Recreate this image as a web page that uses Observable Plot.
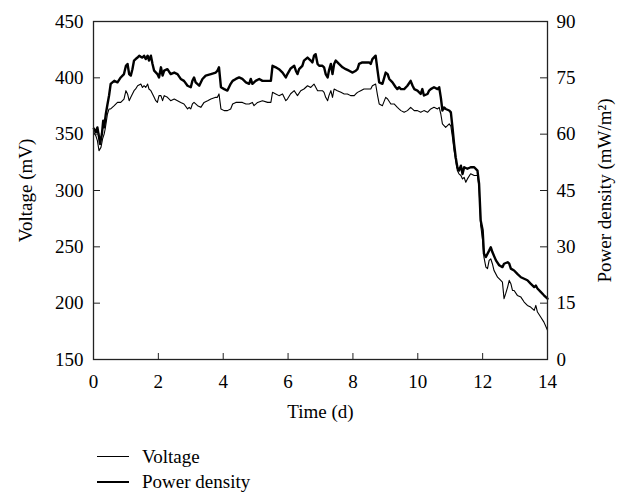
<!DOCTYPE html>
<html><head><meta charset="utf-8">
<script src="https://cdn.jsdelivr.net/npm/d3@7"></script>
<script src="https://cdn.jsdelivr.net/npm/@observablehq/plot@0.6"></script>
<style>
body{margin:0;background:#fff;font-family:"Liberation Serif",serif;}
#wrap{position:relative;width:622px;height:493px;}
#legend{position:absolute;left:97px;top:444px;font-size:19px;color:#000;}
.row{display:flex;align-items:center;height:25.5px;}
.sw{width:32px;margin-right:13px;background:#000;}
</style></head><body><div id="wrap"><div id="chart"></div><div id="legend"></div></div>
<script>
const timeTicks = [0, 2, 4, 6, 8, 10, 12, 14];
const voltageTicks = [150, 200, 250, 300, 350, 400, 450];
const powerTicks = [0, 15, 30, 45, 60, 75, 90];
const xLabel = "Time (d)";
const yLabel = "Voltage (mV)";
const y2Label = "Power density (mW/m\u00B2)";
const seriesNames = ["Voltage", "Power density"];

const voltageTime = [0.01,0.07,0.12,0.17,0.23,0.28,0.33,0.36,0.40,0.43,0.48,0.53,0.64,0.74,0.84,0.94,1.00,1.05,1.10,1.15,1.25,1.30,1.36,1.46,1.51,1.56,1.61,1.67,1.71,1.77,1.82,1.87,1.92,1.97,2.02,2.08,2.13,2.18,2.28,2.38,2.49,2.59,2.69,2.79,2.90,2.95,3.00,3.05,3.10,3.21,3.31,3.41,3.52,3.62,3.77,3.82,3.87,3.93,4.03,4.13,4.23,4.29,4.39,4.49,4.59,4.70,4.80,4.90,4.95,5.06,5.21,5.37,5.47,5.52,5.62,5.72,5.83,5.93,5.98,6.08,6.19,6.29,6.39,6.49,6.60,6.70,6.80,6.91,6.96,7.06,7.11,7.16,7.22,7.26,7.32,7.37,7.42,7.52,7.63,7.73,7.83,7.93,8.04,8.09,8.14,8.24,8.34,8.45,8.55,8.60,8.70,8.76,8.81,8.91,9.01,9.07,9.17,9.27,9.37,9.42,9.48,9.58,9.68,9.78,9.89,9.99,10.09,10.19,10.30,10.40,10.50,10.61,10.66,10.71,10.76,10.86,10.97,11.02,11.07,11.12,11.17,11.22,11.27,11.33,11.38,11.43,11.48,11.53,11.63,11.74,11.84,11.89,11.94,12.00,12.04,12.10,12.15,12.20,12.25,12.30,12.35,12.46,12.56,12.61,12.66,12.71,12.77,12.82,12.87,12.92,12.97,13.07,13.18,13.28,13.38,13.48,13.59,13.64,13.69,13.79,13.89,14.00];
const voltageValues = [351.6,348.7,344.3,335.4,338.3,345.8,350.2,354.6,362.0,367.9,372.4,372.4,375.3,378.2,378.2,381.2,388.6,385.7,379.7,382.7,388.6,390.1,393.0,394.5,391.5,393.0,391.5,394.5,390.1,388.6,385.7,382.7,379.7,378.2,384.2,384.2,379.7,384.2,382.7,379.7,381.2,379.7,378.2,376.8,372.4,373.8,372.4,376.8,378.2,375.3,373.8,378.2,379.7,381.2,382.7,382.7,385.7,372.4,370.9,370.9,372.4,376.8,378.2,378.2,378.2,376.8,376.8,378.2,375.3,378.2,379.7,378.2,378.2,387.1,385.7,384.2,385.7,379.7,381.2,385.9,388.6,384.2,388.6,390.1,393.0,391.5,394.5,388.6,388.6,388.6,387.1,382.7,379.7,384.2,388.6,382.7,390.1,388.6,387.1,385.7,385.7,384.2,384.2,385.7,387.1,388.6,390.1,390.1,390.1,393.0,394.5,384.2,376.8,375.3,382.7,381.2,376.8,376.8,373.8,372.4,370.9,369.4,370.9,373.8,370.9,370.9,369.4,370.9,369.4,372.4,373.8,372.4,373.8,367.9,359.1,356.1,359.1,357.1,347.2,335.4,326.6,317.7,314.8,313.3,310.3,311.7,307.3,310.3,314.8,313.3,313.3,302.9,268.9,255.6,240.8,232.0,230.6,237.9,239.4,235.0,229.1,223.1,220.2,218.7,204.0,208.4,214.3,220.2,217.3,211.3,211.3,206.9,205.4,201.0,198.0,196.5,193.6,198.0,192.1,187.7,183.2,175.9];

const powerTime = [0.01,0.07,0.12,0.17,0.20,0.26,0.30,0.33,0.38,0.43,0.48,0.53,0.64,0.74,0.84,0.94,1.00,1.05,1.10,1.15,1.20,1.25,1.30,1.36,1.41,1.46,1.51,1.56,1.61,1.67,1.71,1.77,1.82,1.87,1.97,2.02,2.08,2.13,2.18,2.28,2.38,2.49,2.59,2.69,2.79,2.90,3.00,3.05,3.10,3.15,3.26,3.36,3.46,3.62,3.77,3.82,3.87,3.93,4.03,4.13,4.23,4.29,4.39,4.49,4.59,4.70,4.80,4.85,4.90,5.00,5.11,5.21,5.37,5.47,5.52,5.62,5.72,5.83,5.93,5.98,6.08,6.19,6.24,6.29,6.34,6.44,6.49,6.60,6.70,6.75,6.80,6.85,6.91,6.96,7.06,7.11,7.16,7.22,7.26,7.32,7.37,7.42,7.47,7.57,7.68,7.78,7.88,7.99,8.09,8.14,8.19,8.29,8.40,8.50,8.55,8.60,8.70,8.76,8.81,8.91,9.01,9.07,9.12,9.22,9.32,9.37,9.42,9.48,9.58,9.68,9.78,9.84,9.89,9.99,10.09,10.14,10.19,10.30,10.35,10.40,10.50,10.61,10.66,10.71,10.76,10.81,10.86,10.97,11.02,11.07,11.12,11.17,11.22,11.27,11.33,11.38,11.43,11.53,11.63,11.74,11.84,11.89,11.94,12.00,12.04,12.10,12.20,12.25,12.30,12.41,12.51,12.61,12.66,12.77,12.82,12.87,12.97,13.07,13.18,13.28,13.38,13.48,13.59,13.64,13.69,13.79,13.89,14.00];
const powerValues = [61.5,60.5,61.8,59.2,57.4,60.1,63.6,61.8,65.4,67.9,70.3,73.4,74.2,73.8,75.1,76.0,78.2,78.7,76.0,75.6,77.3,79.6,80.0,80.4,80.9,80.6,80.4,80.9,80.0,80.9,79.6,80.9,78.7,76.9,76.0,75.1,77.8,75.6,76.9,77.3,76.0,76.4,76.0,74.7,74.2,72.9,72.5,74.2,75.1,73.8,72.9,74.7,75.6,76.0,76.4,76.9,77.8,72.5,72.0,71.6,73.4,74.2,74.7,75.1,74.7,73.8,73.4,74.7,73.4,74.2,74.7,74.2,74.2,74.2,78.2,77.8,77.3,76.4,75.1,76.0,77.5,78.2,76.9,76.0,77.3,78.2,79.6,80.4,79.6,79.1,80.9,81.3,78.7,78.2,78.2,77.8,76.0,75.1,76.9,78.7,76.0,78.7,79.6,78.7,77.8,77.3,76.9,76.4,76.9,77.3,78.7,79.1,79.1,79.1,78.7,80.0,80.9,76.9,73.8,73.4,76.4,76.0,74.7,73.8,72.5,72.0,72.5,72.0,72.0,72.9,74.2,72.9,72.0,71.6,70.7,72.0,70.3,70.7,71.6,72.0,72.5,72.0,72.5,69.8,66.3,67.1,66.7,66.3,65.8,61.8,57.4,53.8,51.2,50.3,51.6,49.4,51.2,50.8,51.2,51.2,50.3,46.8,37.0,34.4,28.2,27.3,29.0,29.9,28.6,26.4,25.1,24.6,25.5,25.9,25.5,24.2,23.7,22.8,21.9,21.5,21.1,20.2,19.3,19.7,18.9,18.0,17.1,16.2];

const voltage = voltageTime.map((t, i) => ({t, v: voltageValues[i]}));
const power = powerTime.map((t, i) => ({t, p: powerValues[i]}));

const W = 622, H = 430;
const mL = 93, mR = 75, mT = 21, mB = H - 359;
const plotW = W - mL - mR, plotH = H - mT - mB;
const toLeft = p => 150 + p * 10 / 3;

const chart = Plot.plot({
  width: W, height: H,
  marginLeft: mL, marginRight: mR, marginTop: mT, marginBottom: mB,
  style: {fontFamily: '"Liberation Serif", serif', fontSize: "19px", color: "#000", background: "#fff"},
  x: {domain: [0, 14]},
  y: {domain: [150, 450]},
  marks: [
    Plot.line(voltage, {x: "t", y: "v", stroke: "#000", strokeWidth: 1.1}),
    Plot.line(power, {x: "t", y: d => toLeft(d.p), stroke: "#000", strokeWidth: 2.4}),
    Plot.frame({stroke: "#222", strokeWidth: 1.3}),
    Plot.tickX(timeTicks, {x: d => d, insetTop: plotH - 6, stroke: "#222"}),
    Plot.tickY(voltageTicks, {y: d => d, insetRight: plotW - 7, stroke: "#222"}),
    Plot.tickY(powerTicks, {y: d => toLeft(d), insetLeft: plotW - 7, stroke: "#222"}),
    Plot.axisX(timeTicks, {tickSize: 0, tickPadding: 15, label: null}),
    Plot.axisY(voltageTicks, {anchor: "left", tickSize: 0, tickPadding: 10, label: null}),
    Plot.axisY(powerTicks.map(toLeft), {anchor: "right", tickSize: 0, tickPadding: 9, label: null,
      tickFormat: v => String(Math.round((v - 150) * 0.3))}),
    Plot.text([xLabel], {text: d => d, frameAnchor: "bottom", dy: 52, textAnchor: "middle", lineAnchor: "middle"}),
    Plot.text([yLabel], {text: d => d, frameAnchor: "left", dx: -68, rotate: -90, textAnchor: "middle", lineAnchor: "middle"}),
    Plot.text([y2Label], {text: d => d, frameAnchor: "right", dx: 57, rotate: -90, textAnchor: "middle", lineAnchor: "middle"})
  ]
});
document.getElementById("chart").appendChild(chart);

const legend = document.getElementById("legend");
seriesNames.forEach((name, i) => {
  const row = document.createElement("div");
  row.className = "row";
  const sw = document.createElement("div");
  sw.className = "sw";
  sw.style.height = (i === 0 ? 1.1 : 2.4) + "px";
  const lab = document.createElement("span");
  lab.textContent = name;
  row.appendChild(sw); row.appendChild(lab);
  legend.appendChild(row);
});
</script></body></html>
